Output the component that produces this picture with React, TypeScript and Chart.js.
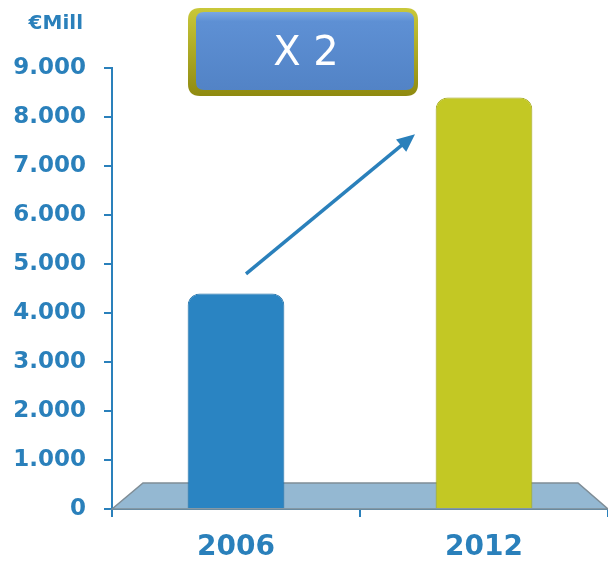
import React, { useEffect, useRef } from "react";
import { Chart, registerables } from "chart.js";

Chart.register(...registerables);

const categories = ["2006", "2012"];
const values = [4400, 8400];
const barColors = ["#2a84c2", "#c3c824"];
const yTickValues = [0, 1000, 2000, 3000, 4000, 5000, 6000, 7000, 8000, 9000];
const unitLabel = "€Mill";
const badgeText = "X 2";
const arrowFrom = [0, 4800];
const arrowTo = [1, 7650];

const BLUE = "#2a80bb";
const FONT = "'DejaVu Sans', Verdana, sans-serif";

function fmt(v: number) {
  if (v === 0) return "0";
  return Math.floor(v / 1000) + "." + String(v % 1000).padStart(3, "0");
}

function roundRect(ctx: CanvasRenderingContext2D, x: number, y: number, w: number, h: number, r: number) {
  ctx.beginPath();
  ctx.moveTo(x + r, y);
  ctx.lineTo(x + w - r, y);
  ctx.quadraticCurveTo(x + w, y, x + w, y + r);
  ctx.lineTo(x + w, y + h - r);
  ctx.quadraticCurveTo(x + w, y + h, x + w - r, y + h);
  ctx.lineTo(x + r, y + h);
  ctx.quadraticCurveTo(x, y + h, x, y + h - r);
  ctx.lineTo(x, y + r);
  ctx.quadraticCurveTo(x, y, x + r, y);
  ctx.closePath();
}

const decorPlugin = {
  id: "decor",
  beforeDatasetsDraw(chart: any) {
    const { ctx, chartArea } = chart;
    const { left, right, bottom } = chartArea;
    ctx.save();
    ctx.beginPath();
    ctx.moveTo(left, bottom);
    ctx.lineTo(left + 31, bottom - 26);
    ctx.lineTo(right - 30, bottom - 26);
    ctx.lineTo(right, bottom);
    ctx.closePath();
    ctx.fillStyle = "#94b8d2";
    ctx.fill();
    ctx.strokeStyle = "#7f8d96";
    ctx.lineWidth = 1.5;
    ctx.stroke();
    ctx.restore();
  },
  afterDatasetsDraw(chart: any) {
    const { ctx } = chart;
    const xs = chart.scales.x;
    const ys = chart.scales.y;
    // arrow
    const x1 = xs.getPixelForValue(arrowFrom[0]) + 10;
    const y1 = ys.getPixelForValue(arrowFrom[1]);
    const x2 = xs.getPixelForValue(arrowTo[0]) - 69;
    const y2 = ys.getPixelForValue(arrowTo[1]);
    const ang = Math.atan2(y2 - y1, x2 - x1);
    ctx.save();
    ctx.strokeStyle = BLUE;
    ctx.fillStyle = BLUE;
    ctx.lineWidth = 3.5;
    ctx.beginPath();
    ctx.moveTo(x1, y1);
    ctx.lineTo(x2 - 12 * Math.cos(ang), y2 - 12 * Math.sin(ang));
    ctx.stroke();
    ctx.beginPath();
    ctx.moveTo(x2, y2);
    ctx.lineTo(x2 - 18 * Math.cos(ang) + 8 * Math.sin(ang), y2 - 18 * Math.sin(ang) - 8 * Math.cos(ang));
    ctx.lineTo(x2 - 18 * Math.cos(ang) - 8 * Math.sin(ang), y2 - 18 * Math.sin(ang) + 8 * Math.cos(ang));
    ctx.closePath();
    ctx.fill();
    ctx.restore();
  },
  afterDraw(chart: any) {
    const { ctx } = chart;
    ctx.save();
    // unit label
    ctx.fillStyle = BLUE;
    ctx.font = `bold 20px ${FONT}`;
    ctx.textAlign = "right";
    ctx.textBaseline = "middle";
    ctx.fillText(unitLabel, 83, 24);
    // badge
    roundRect(ctx, 188, 8, 230, 88, 12);
    const og = ctx.createLinearGradient(0, 8, 0, 96);
    og.addColorStop(0, "#c9c83a");
    og.addColorStop(1, "#8f8a10");
    ctx.fillStyle = og;
    ctx.fill();
    roundRect(ctx, 196, 12, 218, 78, 8);
    const bg = ctx.createLinearGradient(0, 12, 0, 90);
    bg.addColorStop(0, "#7aa8e2");
    bg.addColorStop(0.12, "#5e90d4");
    bg.addColorStop(1, "#5283c6");
    ctx.fillStyle = bg;
    ctx.fill();
    ctx.fillStyle = "#ffffff";
    ctx.font = `40px ${FONT}`;
    ctx.textAlign = "center";
    ctx.textBaseline = "middle";
    ctx.fillText(badgeText, 306, 55);
    ctx.restore();
  },
};

export default function App() {
  const ref = useRef<HTMLCanvasElement | null>(null);
  useEffect(() => {
    document.body.style.margin = "0";
    const chart = new Chart(ref.current as HTMLCanvasElement, {
      type: "bar",
      data: {
        labels: categories,
        datasets: [
          {
            data: values,
            backgroundColor: barColors,
            borderColor: ["#1f6fa6", "#9fa318"],
            borderWidth: 1,
            borderSkipped: "bottom",
            borderRadius: { topLeft: 12, topRight: 12, bottomLeft: 0, bottomRight: 0 },
            categoryPercentage: 1,
            barPercentage: 0.39,
          },
        ],
      },
      options: {
        animation: false,
        responsive: false,
        maintainAspectRatio: false,
        layout: { padding: { top: 68, right: 0, left: 0, bottom: 0 } },
        plugins: { legend: { display: false }, tooltip: { enabled: false } },
        scales: {
          x: {
            grid: { display: true, drawOnChartArea: false, offset: true, tickLength: 8, color: BLUE, lineWidth: 2 },
            border: { display: true, color: BLUE, width: 2 },
            ticks: { color: BLUE, font: { family: FONT, size: 28, weight: "bold" }, padding: 14 },
            afterFit(s: any) {
              s.height = 54;
            },
          },
          y: {
            min: 0,
            max: 9000,
            afterBuildTicks(s: any) {
              s.ticks = yTickValues.map((v) => ({ value: v }));
            },
            grid: { display: true, drawOnChartArea: false, tickLength: 8, color: BLUE, lineWidth: 2 },
            border: { display: true, color: BLUE, width: 2 },
            ticks: {
              color: BLUE,
              font: { family: FONT, size: 23, weight: "bold" },
              padding: 18,
              callback: (v: any) => fmt(Number(v)),
            },
            afterFit(s: any) {
              s.width = 112;
            },
          },
        },
      } as any,
      plugins: [decorPlugin],
    });
    return () => chart.destroy();
  }, []);
  return (
    <div style={{ width: 608, height: 563 }}>
      <canvas ref={ref} width={608} height={563} style={{ display: "block" }} />
    </div>
  );
}
